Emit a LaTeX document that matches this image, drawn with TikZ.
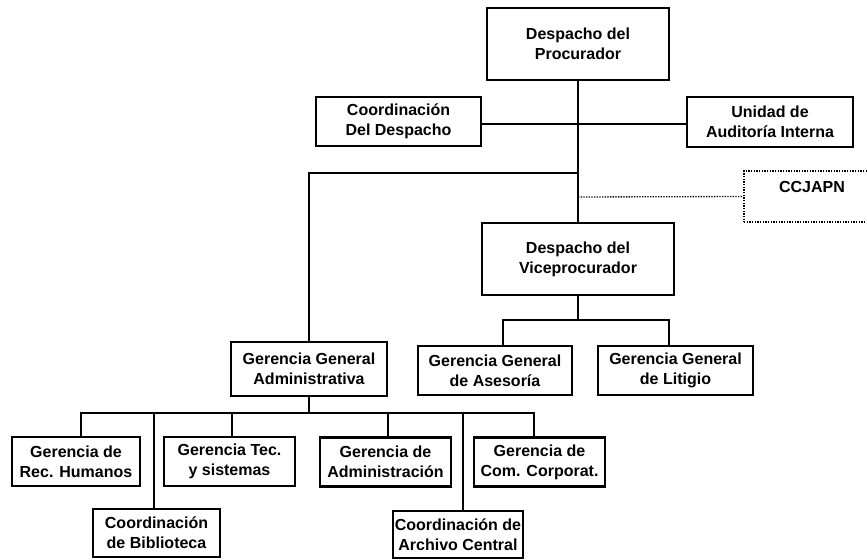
\documentclass[tikz,border=0pt]{standalone}
\usepackage{fontspec}
\setmainfont{Liberation Sans}
\usepackage{tikz}

\begin{document}
\begin{tikzpicture}[x=0.75pt,y=-0.75pt]
    \useasboundingbox (0,0) rectangle (867,560);
    \begin{scope}[every node/.style={rectangle,draw,line width=1.6pt,align=center,
        font=\fontsize{12}{15}\selectfont\bfseries,inner xsep=1pt,minimum height=36.75pt}]
      \node[minimum width=136.5pt,minimum height=54pt] (proc) at (578,44) {Despacho del\\Procurador};
      \node[minimum width=123.75pt] (cdd) at (398.5,121.5) {Coordinación\\Del Despacho};
      \node[minimum width=124.5pt,minimum height=37.5pt] (uai) at (770,122) {Unidad de\\Auditoría Interna};
      \node[minimum width=102pt,minimum height=38.25pt,line width=1pt,
            dash pattern=on 1pt off 1pt] (ccj) at (812,196.5) {CCJAPN\\\mbox{}};
      \node[minimum width=144pt,minimum height=54pt] (vice) at (578,259) {Despacho del\\Viceprocurador};
      \node[minimum width=117pt,minimum height=40.5pt] (gga) at (309,369) {Gerencia General\\Administrativa};
      \node[minimum width=115.5pt] (ase) at (495,370.5) {Gerencia General\\de Asesoría};
      \node[minimum width=116.25pt] (lit) at (675.5,370.5) {Gerencia General\\de Litigio};
      \node[minimum width=96pt] (rh) at (76,461.5) {Gerencia de\\Rec. Humanos};
      \node[minimum width=95.25pt,minimum height=36pt] (bib) at (156.5,533) {Coordinación\\de Biblioteca};
      \node[minimum width=98.25pt] (tec) at (229.5,461.5) {Gerencia Tec.\\y sistemas};
      \node[minimum width=98.25pt] (adm) at (385.5,462) {Gerencia de\\Administración};
      \node[minimum width=97.5pt,minimum height=35.25pt] (arc) at (458,534.5) {Coordinación de\\Archivo Central};
      \node[minimum width=98.25pt] (com) at (539.5,462) {Gerencia de\\Com. Corporat.};
    \end{scope}

    \begin{scope}[line width=1.5pt]
      \coordinate (tmid) at (578,124);
      \coordinate (tleft) at (578,173);
      \coordinate (tdot) at (578,197);
      \coordinate (vbus) at (578,320);
      \coordinate (gbus) at (309,413);
      \draw (proc.south) -- (vice.north);
      \draw (cdd.east |- tmid) -- (uai.west |- tmid);
      \draw (tleft) -| (gga.north);
      \draw[line width=1pt,dash pattern=on 1pt off 1pt] (tdot) -- (ccj.west);
      % asesoria y litigio
      \draw (vice.south) -- (vbus);
      \draw ([xshift=6pt]ase.north) |- (vbus) -| ([xshift=-4.9pt]lit.north);
      % gerencias bajo la administrativa
      \draw (gga.south) -- (gbus);
      \draw ([xshift=3.75pt]rh.north) |- (gbus) -| ([xshift=-4pt]com.north);
      \draw ([xshift=-1.9pt]bib.north) -- ([xshift=-1.9pt]bib.north |- gbus);
      \draw ([xshift=1.9pt]tec.north) -- ([xshift=1.9pt]tec.north |- gbus);
      \draw ([xshift=1.9pt]adm.north) -- ([xshift=1.9pt]adm.north |- gbus);
      \draw ([xshift=3.75pt]arc.north) -- ([xshift=3.75pt]arc.north |- gbus);
    \end{scope}
\end{tikzpicture}
\end{document}
